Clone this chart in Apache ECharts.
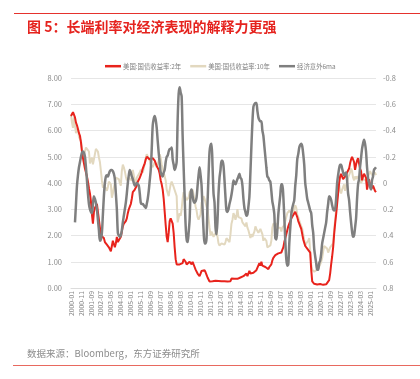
<!DOCTYPE html>
<html>
<head>
<meta charset="utf-8">
<script src="https://cdn.jsdelivr.net/npm/echarts@6/dist/echarts.min.js"></script>
<style>
html, body { margin: 0; padding: 0; background: #fff; }
#main { width: 420px; height: 379px; }
</style>
</head>
<body>
<div id="main"></div>
<script>
// 月度数据 2000-01 ~ 2025-07
var months = [];
for (var y = 2000; y <= 2025; y++) {
    for (var m = 1; m <= 12; m++) {
        if (y === 2025 && m > 7) break;
        months.push(y + '-' + (m < 10 ? '0' + m : m));
    }
}

// 美国:国债收益率:2年 (左轴)
var us2y = [
    6.55, 6.62, 6.70, 6.65, 6.50, 6.30, 6.20, 6.05, 5.90, 5.80, 5.55, 5.20,
    4.95, 4.75, 4.55, 4.40, 4.25, 4.05, 3.80, 3.60, 3.30, 2.80, 2.45, 2.90,
    3.05, 3.10, 3.20, 2.90, 2.60, 2.30, 2.00, 1.95, 2.05, 1.90, 1.75, 1.80,
    1.65, 1.60, 1.55, 1.50, 1.40, 1.35, 1.80, 1.75, 1.55, 1.70, 1.95, 1.75,
    1.75, 1.80, 1.95, 2.15, 2.35, 2.45, 2.50, 2.55, 2.65, 2.85, 3.00, 3.10,
    3.20, 3.40, 3.65, 3.70, 3.75, 3.80, 3.90, 4.05, 4.10, 4.20, 4.30, 4.40,
    4.55, 4.65, 4.75, 4.90, 5.00, 5.05, 4.95, 4.90, 4.85, 4.90, 4.95, 4.90,
    4.85, 4.80, 4.65, 4.60, 4.50, 4.35, 4.10, 3.95, 3.75, 3.40, 2.90, 2.40,
    1.95, 1.75, 2.10, 2.55, 2.65, 2.70, 2.45, 2.10, 1.55, 1.10, 0.90, 0.85,
    0.85, 0.90, 0.95, 0.90, 0.95, 1.10, 1.05, 1.00, 0.90, 0.85, 0.85, 1.00,
    0.95, 0.90, 1.00, 0.95, 0.80, 0.70, 0.65, 0.55, 0.50, 0.45, 0.55, 0.65,
    0.70, 0.72, 0.68, 0.60, 0.50, 0.40, 0.35, 0.25, 0.22, 0.24, 0.26, 0.25,
    0.24, 0.28, 0.30, 0.28, 0.27, 0.28, 0.24, 0.26, 0.25, 0.27, 0.26, 0.25,
    0.26, 0.25, 0.24, 0.23, 0.26, 0.36, 0.33, 0.38, 0.35, 0.32, 0.30, 0.35,
    0.36, 0.33, 0.40, 0.42, 0.38, 0.45, 0.50, 0.48, 0.55, 0.45, 0.50, 0.65,
    0.55, 0.60, 0.62, 0.58, 0.62, 0.65, 0.68, 0.70, 0.72, 0.95, 0.85, 1.00,
    0.85, 0.78, 0.82, 0.80, 0.85, 0.75, 0.72, 0.80, 0.85, 0.90, 1.05, 1.15,
    1.20, 1.25, 1.30, 1.28, 1.32, 1.35, 1.38, 1.35, 1.45, 1.55, 1.75, 1.90,
    2.05, 2.20, 2.35, 2.45, 2.55, 2.65, 2.70, 2.78, 2.85, 2.90, 2.80, 2.70,
    2.55, 2.45, 2.35, 2.25, 2.05, 1.85, 1.80, 1.60, 1.55, 1.50, 1.55, 1.45,
    1.35, 0.70, 0.25, 0.20, 0.16, 0.15, 0.14, 0.13, 0.13, 0.14, 0.15, 0.13,
    0.12, 0.12, 0.14, 0.15, 0.14, 0.16, 0.18, 0.30, 0.55, 0.90, 1.20, 1.55,
    2.05, 2.45, 2.80, 3.20, 3.60, 4.00, 4.25, 4.35, 4.30, 4.15, 4.10, 4.20,
    4.30, 4.40, 4.35, 4.55, 4.75, 4.90, 5.00, 5.05, 4.80, 4.50, 4.70, 4.85,
    4.95, 4.90, 4.55, 4.45, 4.10, 4.25, 4.35, 4.40, 4.20, 3.75, 3.95, 4.15,
    3.95, 3.75, 3.80, 3.90, 3.95, 3.70, 3.65
];

// 美国:国债收益率:10年 (左轴)
var us10y = [
    6.60, 6.30, 6.10, 6.50, 6.20, 5.90, 6.00, 6.10, 5.75, 5.80, 5.60, 5.30,
    5.00, 5.10, 5.20, 5.35, 5.40, 5.35, 5.20, 4.75, 4.80, 4.97, 4.71, 4.90,
    5.10, 5.30, 5.35, 5.20, 4.97, 4.80, 4.46, 4.10, 3.82, 3.90, 3.95, 3.80,
    3.70, 3.85, 4.05, 4.00, 3.95, 3.44, 3.60, 3.82, 4.00, 4.20, 4.25, 4.20,
    4.15, 4.00, 3.90, 4.46, 4.70, 4.60, 4.45, 4.25, 4.10, 4.05, 4.20, 4.25,
    4.20, 4.10, 4.50, 4.30, 4.05, 3.95, 4.20, 4.25, 4.15, 4.40, 4.50, 4.45,
    4.40, 4.55, 4.75, 4.95, 5.10, 5.15, 5.05, 4.85, 4.70, 4.75, 4.60, 4.65,
    4.80, 4.70, 4.60, 4.65, 4.85, 5.10, 4.95, 4.70, 4.55, 4.60, 4.25, 4.10,
    3.75, 3.80, 3.50, 3.75, 3.95, 4.05, 4.00, 3.85, 3.80, 3.85, 3.50, 2.50,
    2.55, 2.85, 2.75, 3.00, 3.40, 3.65, 3.55, 3.50, 3.35, 3.40, 3.45, 3.65,
    3.70, 3.65, 3.75, 3.80, 3.35, 3.10, 2.95, 2.70, 2.60, 2.55, 2.80, 3.25,
    3.35, 3.50, 3.40, 3.35, 3.10, 3.00, 2.95, 2.30, 2.00, 2.15, 2.05, 1.95,
    1.95, 2.00, 2.15, 1.95, 1.70, 1.62, 1.55, 1.70, 1.70, 1.75, 1.65, 1.75,
    1.90, 1.95, 1.90, 1.75, 2.05, 2.45, 2.60, 2.85, 2.75, 2.60, 2.75, 3.00,
    2.70, 2.70, 2.75, 2.65, 2.50, 2.55, 2.50, 2.35, 2.50, 2.30, 2.20, 2.15,
    1.90, 2.05, 1.95, 2.05, 2.15, 2.35, 2.25, 2.20, 2.10, 2.10, 2.25, 2.25,
    2.05, 1.80, 1.90, 1.85, 1.80, 1.55, 1.50, 1.60, 1.62, 1.80, 2.30, 2.45,
    2.45, 2.45, 2.45, 2.30, 2.25, 2.25, 2.30, 2.15, 2.30, 2.35, 2.40, 2.45,
    2.70, 2.85, 2.80, 2.95, 2.90, 2.85, 2.95, 2.85, 3.05, 3.15, 3.05, 2.80,
    2.70, 2.65, 2.45, 2.50, 2.25, 2.05, 2.05, 1.60, 1.70, 1.75, 1.80, 1.90,
    1.40, 0.90, 0.70, 0.65, 0.62, 0.68, 0.62, 0.70, 0.75, 0.82, 0.90, 1.00,
    1.15, 1.40, 1.60, 1.55, 1.55, 1.50, 1.35, 1.40, 1.55, 1.60, 1.55, 1.70,
    2.20, 2.60, 3.00, 3.40, 3.80, 3.95, 3.70, 3.60, 3.75, 3.85, 3.95, 3.70,
    3.90, 4.05, 4.20, 4.25, 4.40, 4.55, 4.45, 4.20, 4.10, 4.25, 4.15, 4.25,
    4.30, 4.25, 4.10, 4.00, 4.05, 4.15, 4.10, 4.20, 4.10, 3.90, 4.25, 4.35,
    4.45, 4.40, 4.30, 4.25, 4.35, 4.40, 4.30
];

// 经济意外6ma (右轴, 逆序)
var surprise6ma = [
    null, null, null, null, 0.30, 0.16, 0.02, -0.06, -0.12, -0.16, -0.20, -0.23,
    -0.24, -0.23, -0.20, -0.12, -0.02, 0.08, 0.16, 0.20, 0.22, 0.23, 0.16, 0.10,
    0.12, 0.15, 0.20, 0.28, 0.36, 0.44, 0.43, 0.38, 0.24, 0.10, 0.00, -0.05,
    -0.06, -0.05, -0.07, -0.09, -0.10, -0.10, -0.09, -0.07, -0.03, 0.08, 0.20, 0.38,
    0.40, 0.41, 0.40, 0.36, 0.30, 0.25, 0.20, 0.15, 0.08, 0.00, -0.06, -0.10,
    -0.08, -0.05, -0.03, 0.00, 0.02, 0.01, 0.00, 0.01, 0.02, 0.08, 0.15, 0.16,
    0.16, 0.17, 0.18, 0.19, 0.16, 0.12, 0.06, -0.02, -0.10, -0.26, -0.44, -0.49,
    -0.51, -0.48, -0.42, -0.32, -0.23, -0.15, -0.08, -0.06, -0.05, -0.08, -0.10, -0.16,
    -0.20, -0.21, -0.24, -0.26, -0.26, -0.27, -0.18, -0.14, -0.10, -0.12, -0.16, -0.48,
    -0.68, -0.73, -0.69, -0.66, -0.36, -0.12, 0.10, 0.32, 0.43, 0.45, 0.38, 0.28,
    0.08, 0.05, 0.10, 0.14, 0.15, 0.14, 0.11, 0.02, -0.06, -0.12, -0.06, 0.02,
    0.20, 0.36, 0.46, 0.46, 0.42, 0.15, -0.06, -0.24, -0.29, -0.30, -0.13, 0.08,
    0.15, 0.34, 0.39, 0.28, 0.08, -0.04, -0.10, -0.17, -0.17, -0.13, -0.02, 0.11,
    0.21, 0.22, 0.20, 0.16, 0.13, 0.09, 0.04, -0.02, 0.00, 0.01, -0.01, -0.03,
    -0.05, -0.07, -0.04, -0.03, 0.02, 0.12, 0.19, 0.22, 0.25, 0.24, 0.18, 0.10,
    -0.08, -0.28, -0.46, -0.58, -0.60, -0.61, -0.61, -0.55, -0.50, -0.48, -0.47, -0.47,
    -0.40, -0.36, -0.28, -0.20, -0.12, -0.05, -0.04, -0.02, -0.01, 0.06, 0.14, 0.18,
    0.24, 0.42, 0.43, 0.36, 0.24, 0.16, 0.09, 0.01, 0.01, 0.10, 0.26, 0.44,
    0.58, 0.63, 0.62, 0.46, 0.34, 0.24, 0.19, 0.16, 0.13, 0.02, -0.06, -0.18,
    -0.22, -0.27, -0.29, -0.30, -0.28, -0.22, -0.14, 0.00, 0.06, 0.12, 0.15, 0.18,
    0.21, 0.23, 0.32, 0.38, 0.50, 0.56, 0.61, 0.66, 0.66, 0.61, 0.59, 0.54,
    0.46, 0.42, 0.38, 0.34, 0.30, 0.22, 0.16, 0.10, 0.11, 0.13, 0.17, 0.20,
    0.21, 0.20, 0.12, 0.00, -0.06, -0.11, -0.14, -0.14, -0.11, -0.08, -0.06, -0.07,
    -0.08, -0.02, 0.08, 0.13, 0.22, 0.30, 0.37, 0.41, 0.40, 0.34, 0.27, 0.12,
    0.01, -0.03, -0.12, -0.19, -0.26, -0.30, -0.33, -0.30, -0.24, -0.12, -0.04, 0.00,
    0.03, 0.05, -0.02, -0.05, -0.10, -0.11, -0.12
];

var leftTicks = [0, 8, 1];
var rightTicks = [-0.8, 0.8, 0.2];

var chartDom = document.getElementById('main');
var myChart = echarts.init(chartDom);

var option = {
    animation: false,
    textStyle: {
        fontFamily: 'Noto Sans CJK SC'
    },
    title: [
        {
            text: '图 5：长端利率对经济表现的解释力更强',
            left: 22,
            top: 15,
            textStyle: {
                color: '#e5231e',
                fontSize: 14,
                fontWeight: 'bold',
                fontFamily: 'Noto Sans CJK SC'
            }
        },
        {
            text: '数据来源：Bloomberg，东方证券研究所',
            left: 22,
            top: 344,
            textStyle: {
                color: '#8c8c8c',
                fontSize: 9.5,
                fontWeight: 'normal',
                fontFamily: 'Noto Sans CJK SC'
            }
        }
    ],
    graphic: [
        {
            type: 'line',
            shape: { x1: 14, y1: 13.5, x2: 420, y2: 13.5 },
            style: { stroke: '#e5322d', lineWidth: 1 }
        },
        {
            type: 'line',
            shape: { x1: 13, y1: 365.5, x2: 420, y2: 365.5 },
            style: { stroke: '#e8695f', lineWidth: 1 }
        }
    ],
    legend: {
        top: 58,
        left: 100,
        itemWidth: 16,
        itemHeight: 2.5,
        itemGap: 9,
        icon: 'rect',
        textStyle: {
            color: '#7f7f7f',
            fontSize: 6.4,
            padding: [0, 0, 0, -3]
        },
        data: ['美国:国债收益率:2年', '美国:国债收益率:10年', '经济意外6ma']
    },
    grid: {
        left: 71,
        right: 44,
        top: 78,
        bottom: 91
    },
    xAxis: {
        type: 'category',
        boundaryGap: false,
        data: months,
        axisLine: {
            lineStyle: { color: '#dcdcdc', width: 1 }
        },
        axisTick: { show: false },
        axisLabel: {
            interval: 9,
            rotate: 90,
            color: '#8c8c8c',
            fontSize: 6.8,
            margin: 3
        },
        splitLine: { show: false }
    },
    yAxis: [
        {
            type: 'value',
            min: leftTicks[0],
            max: leftTicks[1],
            interval: leftTicks[2],
            axisLine: { show: false },
            axisTick: { show: false },
            axisLabel: {
                color: '#8c8c8c',
                fontSize: 7.5,
                margin: 9,
                formatter: function (v) { return v.toFixed(2); }
            },
            splitLine: {
                lineStyle: { color: '#e6e6e6', width: 1 }
            }
        },
        {
            type: 'value',
            inverse: true,
            min: rightTicks[0],
            max: rightTicks[1],
            interval: rightTicks[2],
            axisLine: { show: false },
            axisTick: { show: false },
            axisLabel: {
                color: '#8c8c8c',
                fontSize: 7.5,
                margin: 7,
                formatter: function (v) {
                    var r = Math.round(v * 10) / 10;
                    return r === 0 ? '0' : String(r);
                }
            },
            splitLine: { show: false }
        }
    ],
    series: [
        {
            name: '美国:国债收益率:2年',
            type: 'line',
            yAxisIndex: 0,
            data: us2y,
            symbol: 'none',
            z: 3,
            lineStyle: { color: '#e8231c', width: 2 },
            itemStyle: { color: '#e8231c' }
        },
        {
            name: '美国:国债收益率:10年',
            type: 'line',
            yAxisIndex: 0,
            data: us10y,
            symbol: 'none',
            z: 2,
            lineStyle: { color: '#e2d8bf', width: 2 },
            itemStyle: { color: '#e2d8bf' }
        },
        {
            name: '经济意外6ma',
            type: 'line',
            yAxisIndex: 1,
            data: surprise6ma,
            symbol: 'none',
            smooth: 0.3,
            z: 4,
            lineStyle: { color: '#7f7f7f', width: 2.5 },
            itemStyle: { color: '#7f7f7f' }
        }
    ]
};

myChart.setOption(option);
</script>
</body>
</html>
